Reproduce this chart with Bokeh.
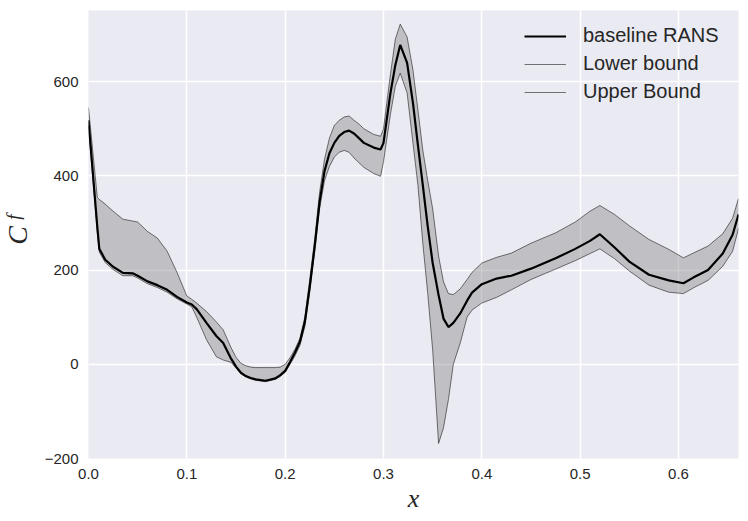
import math
from bokeh.plotting import figure
from bokeh.layouts import row
from bokeh.models import ColumnDataSource, FixedTicker, Range1d, Label, Legend, LegendItem
from bokeh.embed import file_html
from bokeh.resources import INLINE

# ---- data ----
x = [0.0, 0.009, 0.011, 0.017, 0.025, 0.035, 0.045, 0.05, 0.06, 0.07, 0.08, 0.09, 0.1,
     0.105, 0.11, 0.12, 0.13, 0.137, 0.145, 0.15, 0.155, 0.16, 0.165, 0.17, 0.18, 0.19,
     0.195, 0.2, 0.205, 0.21, 0.215, 0.22, 0.225, 0.23, 0.235, 0.24, 0.245, 0.25, 0.255,
     0.26, 0.265, 0.27, 0.275, 0.28, 0.29, 0.297, 0.3, 0.307, 0.312, 0.317, 0.324, 0.33,
     0.335, 0.34, 0.345, 0.35, 0.356, 0.361, 0.366, 0.371, 0.378, 0.385, 0.39, 0.4,
     0.415, 0.43, 0.45, 0.475, 0.495, 0.51, 0.52, 0.535, 0.55, 0.57, 0.59, 0.605, 0.615,
     0.63, 0.645, 0.655, 0.661]

baseline = [518, 290, 245, 222, 207, 194, 193, 188, 176, 168, 158, 143, 131,
            127, 117, 88, 60, 45, 12, -5, -18, -25, -29, -32, -35, -30,
            -23, -14, 5, 25, 48, 90, 165, 250, 345, 410, 448, 470, 485,
            493, 496, 490, 480, 470, 460, 456, 470, 575, 635, 678, 640, 554,
            465, 380, 292, 215, 147, 97, 79, 88, 108, 135, 152, 170,
            182, 188, 203, 225, 245, 262, 276, 248, 218, 190, 178, 172, 184,
            200, 235, 275, 318]

lower = [505, 280, 238, 216, 201, 188, 188, 183, 171, 163, 153, 139, 128,
         122, 100, 52, 16, 9, 4, -8, -20, -27, -31, -34, -37, -32,
         -26, -17, 0, 18, 40, 80, 155, 240, 330, 390, 420, 440, 450,
         454, 450, 438, 428, 418, 405, 399, 430, 530, 590, 618, 576, 469,
         380, 256, 150, 30, -168, -135, -75, 0, 45, 100, 115, 130,
         142, 158, 180, 202, 220, 235, 245, 224, 198, 168, 153, 150, 162,
         178, 208, 240, 288]

upper = [545, 354, 350, 340, 325, 308, 304, 302, 282, 268, 240, 195, 145,
         138, 130, 112, 90, 73, 35, 15, 2, -3, -6, -7, -7, -7,
         -6, 0, 14, 32, 55, 100, 180, 265, 365, 435, 480, 507, 518,
         525, 527, 518, 510, 500, 488, 484, 500, 615, 690, 722, 695, 624,
         540, 454, 390, 330, 230, 175, 150, 148, 160, 180, 195, 215,
         227, 236, 257, 279, 302, 325, 337, 318, 294, 265, 244, 226, 236,
         251, 277, 310, 352]

x_ticks = [0.0, 0.1, 0.2, 0.3, 0.4, 0.5, 0.6]
x_tick_labels = ["0.0", "0.1", "0.2", "0.3", "0.4", "0.5", "0.6"]
y_ticks = [-200, 0, 200, 400, 600]
y_tick_labels = ["\u2212200", "0", "200", "400", "600"]

series_names = ["baseline RANS", "Lower bound", "Upper Bound"]
y_label_main = "C"
y_label_sub = "f"
x_label = "x"

H = 516
src = ColumnDataSource(dict(x=x, base=baseline, lo=lower, up=upper))

p = figure(width=708, height=H, output_backend="svg", toolbar_location=None,
           x_range=Range1d(0.0, 0.661), y_range=Range1d(-200, 751),
           min_border_left=48, min_border_right=10, min_border_top=10, min_border_bottom=58)

p.background_fill_color = "#EAEAF2"
p.border_fill_color = "white"
p.outline_line_color = None

for g in (p.xgrid, p.ygrid):
    g.grid_line_color = "white"
    g.grid_line_width = 1.5

p.xaxis.ticker = FixedTicker(ticks=x_ticks)
p.yaxis.ticker = FixedTicker(ticks=y_ticks)
p.xaxis.major_label_overrides = dict(zip(x_ticks, x_tick_labels))
p.yaxis.major_label_overrides = dict(zip(y_ticks, y_tick_labels))
for ax in (p.xaxis, p.yaxis):
    ax.axis_line_color = None
    ax.major_tick_line_color = None
    ax.minor_tick_line_color = None
    ax.major_tick_out = 0
    ax.major_tick_in = 0
    ax.minor_tick_out = 0
    ax.minor_tick_in = 0
    ax.major_label_text_font = "Liberation Sans"
    ax.major_label_text_font_size = "15px"
    ax.major_label_text_color = "#262626"
p.xaxis.major_label_standoff = 10
p.yaxis.major_label_standoff = 10

p.xaxis.axis_label = x_label
p.xaxis.axis_label_text_font = "Liberation Serif"
p.xaxis.axis_label_text_font_style = "italic"
p.xaxis.axis_label_text_font_size = "26px"
p.xaxis.axis_label_text_color = "#262626"
p.xaxis.axis_label_standoff = 2

p.varea(x="x", y1="lo", y2="up", source=src, fill_color="gray", fill_alpha=0.4)
r_lo = p.line("x", "lo", source=src, line_color="black", line_alpha=0.65, line_width=0.8)
r_up = p.line("x", "up", source=src, line_color="black", line_alpha=0.65, line_width=0.8)
r_base = p.line("x", "base", source=src, line_color="black", line_width=2.2)

legend = Legend(items=[LegendItem(label=series_names[0], renderers=[r_base]),
                       LegendItem(label=series_names[1], renderers=[r_lo]),
                       LegendItem(label=series_names[2], renderers=[r_up])],
                location="top_right")
legend.background_fill_alpha = 0
legend.border_line_color = None
legend.label_text_font = "Liberation Sans"
legend.label_text_font_size = "20px"
legend.label_text_color = "#262626"
legend.glyph_width = 42
legend.glyph_height = 20
legend.label_height = 20
legend.label_width = 141
legend.label_standoff = 17
legend.spacing = 5
legend.padding = 14
legend.margin = 14
p.add_layout(legend, "center")

# narrow side panel holding the y axis label C_f (italic, with subscript)
lab = figure(width=40, height=H, output_backend="svg", toolbar_location=None,
             x_range=Range1d(0, 40), y_range=Range1d(0, H),
             x_axis_type=None, y_axis_type=None, min_border=0)
lab.outline_line_color = None
lab.background_fill_color = "white"
lab.border_fill_color = "white"
lab.add_layout(Label(x=17, y=H - 259, text=y_label_main,
                     angle=math.pi / 2, text_align="center", text_baseline="middle",
                     text_font="Liberation Serif", text_font_style="italic",
                     text_font_size="28px", text_color="#262626"))
lab.add_layout(Label(x=13, y=H - 238, text=y_label_sub,
                     angle=math.pi / 2, text_align="center", text_baseline="middle",
                     text_font="Liberation Serif", text_font_style="italic",
                     text_font_size="19px", text_color="#262626"))

layout = row(lab, p, spacing=0)
open("out.html", "w").write(file_html(layout, INLINE))
